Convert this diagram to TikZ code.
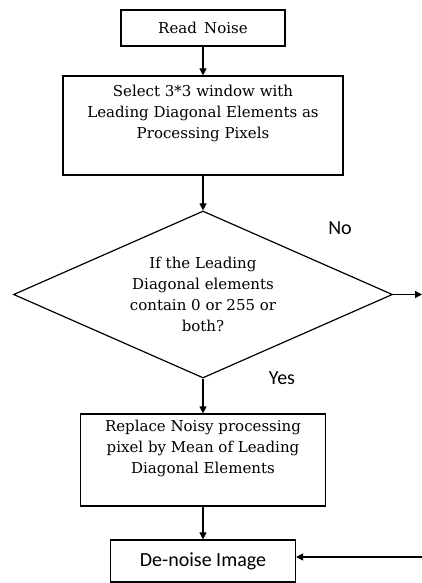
\documentclass[tikz,border=0pt]{standalone}
\usepackage{fontspec}
\setmainfont{DejaVu Serif}
\newfontfamily\answerfont{Carlito}
\usetikzlibrary{shapes.geometric,arrows.meta}

\begin{document}
\begin{tikzpicture}[x=1pt, y=-1pt, line width=1.2pt,
     >={Triangle[length=7pt,width=7pt]},
     every node/.style={font=\fontsize{15}{21}\selectfont},
     procbox/.style={draw, align=center, inner sep=0pt},
     decision/.style={diamond, draw, align=center, inner sep=0pt, aspect=2.27},
     answer/.style={font=\answerfont\fontsize{20}{21}\selectfont},
     flow/.style={->}]

   \useasboundingbox (0,0) rectangle (422,583);

   \node[procbox, minimum width=164pt, minimum height=36pt] (read) at (203,28) {Read\, Noise};
   \node[procbox, minimum width=280pt, minimum height=99pt] (select) at (203,125.5)
     {Select 3*3 window with\\ Leading Diagonal Elements as\\ Processing Pixels\\ \strut};
   \node[decision, minimum width=379pt, minimum height=167pt] (test) at (203,294.5)
     {If the Leading\\ Diagonal elements\\ contain 0 or 255 or\\ both?};
   \node[procbox, minimum width=245pt, minimum height=92pt] (replace) at (203,460)
     {Replace Noisy processing\\ pixel by Mean of Leading\\ Diagonal Elements\\ \strut};
   \node[procbox, answer, minimum width=185pt, minimum height=42pt] (denoise) at (203,561) {De-noise Image};

   \node[answer] (no) at (340,228) {No};
   \node[answer] (yes) at (282,378) {Yes};

   \coordinate (noexit) at (422,294.5);
   \coordinate (backin) at (422,557);

   \draw[flow] (read) -- (select);
   \draw[flow] (select) -- (test);
   \draw[flow] (test) -- (replace);
   \draw[flow] (replace) -- (denoise);
   \draw[flow] (test.east) -- (noexit);
   \draw[flow] (backin) -- (backin -| denoise.east);
\end{tikzpicture}
\end{document}
